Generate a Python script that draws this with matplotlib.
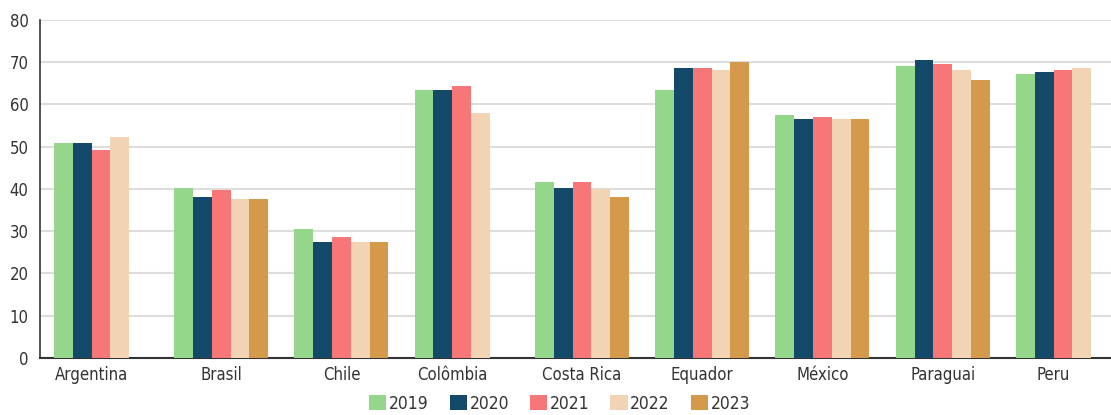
import matplotlib.pyplot as plt
import numpy as np

# dados
paises = ["Argentina", "Brasil", "Chile", "Colômbia", "Costa Rica",
          "Equador", "México", "Paraguai", "Peru"]
anos = ["2019", "2020", "2021", "2022", "2023"]
v2019 = [50.9, 40.2, 30.5, 63.4, 41.6, 63.4, 57.5, 69.1, 67.2]
v2020 = [50.9, 38.1, 27.4, 63.4, 40.2, 68.6, 56.6, 70.5, 67.7]
v2021 = [49.2, 39.7, 28.6, 64.4, 41.6, 68.6, 57.0, 69.6, 68.2]
v2022 = [52.3, 37.6, 27.4, 58.0, 39.9, 68.2, 56.6, 68.2, 68.6]
v2023 = [np.nan, 37.6, 27.4, np.nan, 38.1, 70.1, 56.6, 65.8, np.nan]
cores = ["#95d78a", "#134a6a", "#f77778", "#f2d3b4", "#d4994a"]

series = np.array([v2019, v2020, v2021, v2022, v2023])

plt.rcParams['font.family'] = ['DejaVu Sans']
plt.rcParams['font.stretch'] = 'condensed'

fig = plt.figure(figsize=(11.11, 4.15), dpi=100)
ax = fig.add_axes([0.0356, 0.138, 0.9644, 0.814])

largura = 0.156
x = np.arange(len(paises))
desloc = (np.arange(len(anos)) - 2) * largura

for i, ano in enumerate(anos):
    ax.bar(x + desloc[i], series[i], largura, color=cores[i], label=ano, zorder=3)

# rótulo centrado nas barras existentes
centros = [np.mean(x[j] + desloc[~np.isnan(series[:, j])]) for j in range(len(paises))]
ax.set_xticks(centros)
ax.set_xticklabels(paises, fontsize=12, color="#333333")
ax.tick_params(axis="x", length=0, pad=6)

ax.set_ylim(0, 80)
ax.set_yticks(range(0, 81, 10))
ax.tick_params(axis="y", length=0, pad=8, labelsize=12, labelcolor="#333333")
ax.set_xlim(-0.51, 8.40)

ax.grid(axis="y", color="#dddddd", linewidth=1.5, zorder=0)
for s in ["top", "right"]:
    ax.spines[s].set_visible(False)
ax.spines["left"].set_color("#333333")
ax.spines["bottom"].set_color("#333333")
ax.spines["left"].set_linewidth(1.2)
ax.spines["bottom"].set_linewidth(1.5)

fig.legend(loc="lower center", bbox_to_anchor=(0.5036, -0.032), ncol=5, frameon=False,
           fontsize=12.5, handlelength=1.0, handleheight=1.0, handletextpad=0.15,
           columnspacing=1.2, labelcolor="#333333")

fig.savefig("out.png", dpi=100)
